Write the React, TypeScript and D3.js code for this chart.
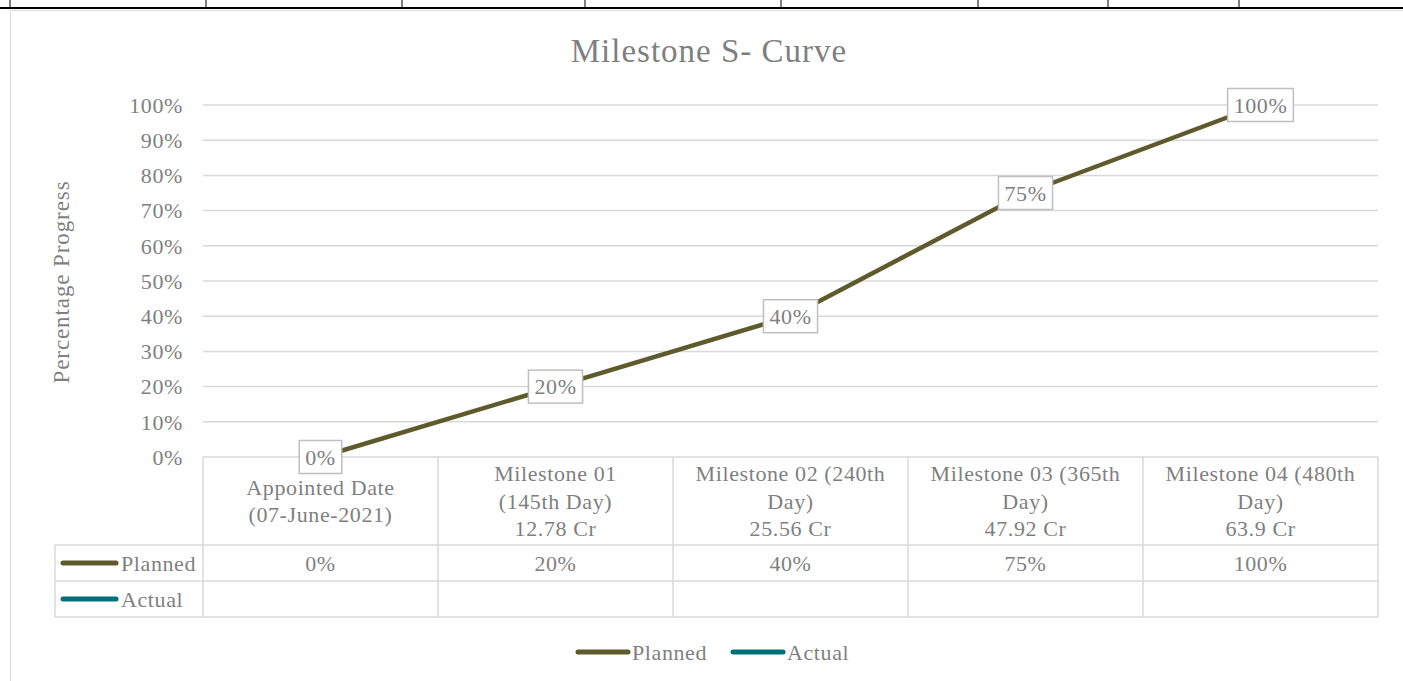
import React from "react";
import * as d3 from "d3";

const categories: string[][] = [
  ["Appointed Date", "(07-June-2021)"],
  ["Milestone 01", "(145th Day)", "12.78 Cr"],
  ["Milestone 02 (240th", "Day)", "25.56 Cr"],
  ["Milestone 03 (365th", "Day)", "47.92 Cr"],
  ["Milestone 04 (480th", "Day)", "63.9 Cr"],
];
const planned = [0, 0.2, 0.4, 0.75, 1];
const actual: (number | null)[] = [null, null, null, null, null];
const yTicks = [0, 0.1, 0.2, 0.3, 0.4, 0.5, 0.6, 0.7, 0.8, 0.9, 1];
const sheetCols = [10, 206, 402, 585, 781, 978, 1108, 1239];

const W = 1403;
const H = 681;
const FONT = "'Liberation Serif', 'DejaVu Serif', serif";
const plannedColor = "#5f5a2b";
const actualColor = "#00707a";
const textColor = "#7f7f7f";
const gridColor = "#d9d9d9";
const FS = 22;
const LS = 0.6;

const plot = { left: 203, right: 1378, top: 105, bottom: 457 };
const rowH = 36;
const headerBottom = 545;
const tableLeft = 55;

const pct = d3.format(".0%");

let ctx: CanvasRenderingContext2D | null = null;
const measure = (t: string, size: number) => {
  if (!ctx) ctx = document.createElement("canvas").getContext("2d");
  if (!ctx) return t.length * size * 0.5;
  ctx.font = `${size}px ${FONT}`;
  return ctx.measureText(t).width + t.length * LS;
};

const App = () => {
  const x = d3
    .scaleBand<number>()
    .domain(categories.map((_, i) => i))
    .range([plot.left, plot.right]);
  const y = d3.scaleLinear().domain([0, 1]).range([plot.bottom, plot.top]);
  const cx = (i: number) => (x(i) || 0) + x.bandwidth() / 2;

  const line = d3
    .line<number>()
    .x((_, i) => cx(i))
    .y((d) => y(d));

  const rows = [
    { name: "Planned", color: plannedColor, values: planned as (number | null)[] },
    { name: "Actual", color: actualColor, values: actual },
  ];

  return (
    <div style={{ position: "absolute", left: 0, top: 0 }}>
      <svg width={W} height={H} style={{ display: "block", background: "#fff" }} fontFamily={FONT} letterSpacing={LS}>
        {/* sheet grid behind the chart */}
        <line x1={0} x2={W} y1={8} y2={8} stroke="#000" strokeWidth={2} />
        {sheetCols.map((c) => (
          <line key={c} x1={c} x2={c} y1={0} y2={8} stroke="#000" strokeWidth={1} />
        ))}
        <rect x={10.5} y={10.5} width={W} height={H} fill="#fff" stroke={gridColor} />

        <text x={709} y={62} textAnchor="middle" fontSize={33} letterSpacing={1} fill={textColor}>
          Milestone S- Curve
        </text>

        {/* gridlines + y axis */}
        {yTicks.map((t) => (
          <g key={t}>
            <line x1={plot.left} x2={plot.right} y1={y(t)} y2={y(t)} stroke={gridColor} strokeWidth={1.5} />
            <text x={183} y={y(t)} dy="0.35em" textAnchor="end" fontSize={FS} fill={textColor}>
              {pct(t)}
            </text>
          </g>
        ))}
        <text
          transform={`translate(69,${(plot.top + plot.bottom) / 2 + 1}) rotate(-90)`}
          textAnchor="middle"
          fontSize={23}
          letterSpacing={0.9}
          fill={textColor}
        >
          Percentage Progress
        </text>

        {/* data table */}
        {d3.range(categories.length + 1).map((i) => {
          const xx = i < categories.length ? x(i) || 0 : plot.right;
          return (
            <line key={i} x1={xx} x2={xx} y1={plot.bottom} y2={headerBottom + rowH * 2} stroke={gridColor} strokeWidth={1.5} />
          );
        })}
        <line x1={tableLeft} x2={tableLeft} y1={headerBottom} y2={headerBottom + rowH * 2} stroke={gridColor} strokeWidth={1.5} />
        {[0, 1, 2].map((r) => (
          <line
            key={r}
            x1={tableLeft}
            x2={plot.right}
            y1={headerBottom + rowH * r}
            y2={headerBottom + rowH * r}
            stroke={gridColor}
            strokeWidth={1.5}
          />
        ))}
        {categories.map((lines, i) => {
          const start = (plot.bottom + headerBottom) / 2 - ((lines.length - 1) * 27.5) / 2;
          return (
            <text key={i} textAnchor="middle" fontSize={FS} fill={textColor}>
              {lines.map((l, j) => (
                <tspan key={j} x={cx(i)} y={start + j * 27.5} dy="0.35em">
                  {l}
                </tspan>
              ))}
            </text>
          );
        })}
        {rows.map((r, ri) => {
          const ym = headerBottom + rowH * ri + rowH / 2;
          return (
            <g key={r.name}>
              <line x1={63} x2={116} y1={ym} y2={ym} stroke={r.color} strokeWidth={5} strokeLinecap="round" />
              <text x={121} y={ym} dy="0.35em" fontSize={FS} fill={textColor}>
                {r.name}
              </text>
              {r.values.map((v, i) =>
                v == null ? null : (
                  <text key={i} x={cx(i)} y={ym} dy="0.35em" textAnchor="middle" fontSize={FS} fill={textColor}>
                    {pct(v)}
                  </text>
                )
              )}
            </g>
          );
        })}

        {/* series */}
        <path d={line(planned) || ""} fill="none" stroke={plannedColor} strokeWidth={4.5} strokeLinejoin="round" />
        {planned.map((v, i) => {
          const label = pct(v);
          const w = measure(label, FS) + 12;
          const h = 33;
          return (
            <g key={i} transform={`translate(${cx(i)},${y(v)})`}>
              <rect x={-w / 2} y={-h / 2} width={w} height={h} fill="#fff" stroke="#bfbfbf" strokeWidth={1.5} />
              <text dy="0.35em" textAnchor="middle" fontSize={FS} fill={textColor}>
                {label}
              </text>
            </g>
          );
        })}

        {/* legend */}
        {rows.map((r, i) => {
          const lx = i === 0 ? 578 : 733;
          return (
            <g key={r.name}>
              <line x1={lx} x2={lx + 50} y1={652} y2={652} stroke={r.color} strokeWidth={5} strokeLinecap="round" />
              <text x={lx + 54} y={652} dy="0.35em" fontSize={FS} fill={textColor}>
                {r.name}
              </text>
            </g>
          );
        })}
      </svg>
    </div>
  );
};

export default App;
